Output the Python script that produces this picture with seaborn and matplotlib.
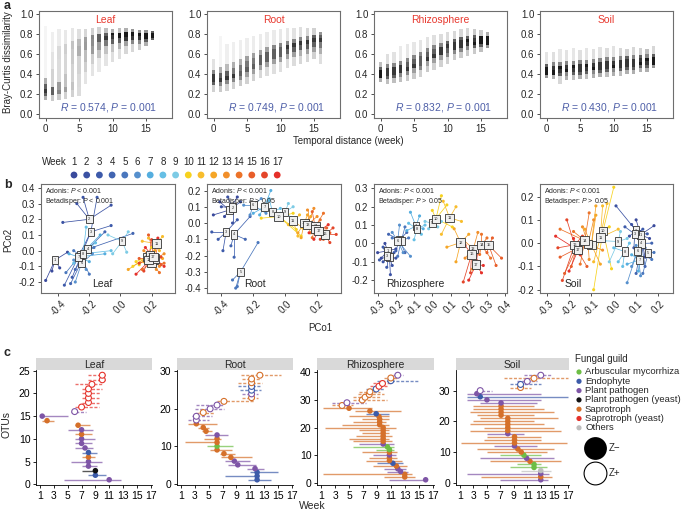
import numpy as np
import pandas as pd
import seaborn as sns
import matplotlib.pyplot as plt

sns.set_theme(style="white")
plt.rcParams["font.family"] = ["Liberation Sans", "DejaVu Sans"]
plt.rcParams["mathtext.fontset"] = "custom"
plt.rcParams["mathtext.it"] = "Liberation Sans:italic"
plt.rcParams["mathtext.rm"] = "Liberation Sans"

# ---------------- panel a: Bray-Curtis vs temporal distance ----------------
compartments = ["Leaf", "Root", "Rhizosphere", "Soil"]
lag_weeks = list(range(17))
q_levels = [0, 10, 25, 50, 75, 90, 100]   # percentiles of each column of points
leaf_bc = [
    [0.14, 0.18, 0.21, 0.25, 0.30, 0.36, 0.88], [0.13, 0.19, 0.22, 0.27, 0.45, 0.62, 0.82],
    [0.14, 0.20, 0.24, 0.32, 0.55, 0.68, 0.85], [0.15, 0.22, 0.27, 0.40, 0.60, 0.70, 0.84],
    [0.17, 0.24, 0.32, 0.50, 0.65, 0.73, 0.86], [0.18, 0.27, 0.40, 0.58, 0.68, 0.75, 0.85],
    [0.30, 0.42, 0.52, 0.64, 0.72, 0.77, 0.85], [0.38, 0.50, 0.60, 0.68, 0.75, 0.79, 0.86],
    [0.42, 0.56, 0.64, 0.72, 0.77, 0.80, 0.87], [0.48, 0.60, 0.68, 0.74, 0.78, 0.81, 0.86],
    [0.52, 0.62, 0.70, 0.75, 0.79, 0.81, 0.85], [0.55, 0.65, 0.71, 0.76, 0.79, 0.81, 0.86],
    [0.60, 0.68, 0.73, 0.77, 0.80, 0.82, 0.86], [0.62, 0.70, 0.74, 0.78, 0.80, 0.82, 0.85],
    [0.64, 0.70, 0.74, 0.78, 0.80, 0.81, 0.84], [0.68, 0.72, 0.75, 0.78, 0.80, 0.81, 0.84],
    [0.74, 0.76, 0.78, 0.79, 0.80, 0.81, 0.83]]
root_bc = [
    [0.22, 0.29, 0.32, 0.36, 0.40, 0.44, 0.55], [0.22, 0.28, 0.32, 0.36, 0.41, 0.47, 0.78],
    [0.23, 0.30, 0.34, 0.38, 0.43, 0.50, 0.70], [0.25, 0.32, 0.36, 0.40, 0.46, 0.52, 0.72],
    [0.28, 0.34, 0.38, 0.43, 0.49, 0.55, 0.74], [0.30, 0.37, 0.42, 0.47, 0.53, 0.58, 0.76],
    [0.33, 0.40, 0.45, 0.50, 0.56, 0.61, 0.78], [0.36, 0.44, 0.49, 0.54, 0.59, 0.64, 0.80],
    [0.38, 0.47, 0.52, 0.57, 0.62, 0.67, 0.82], [0.40, 0.50, 0.55, 0.60, 0.65, 0.69, 0.84],
    [0.42, 0.52, 0.57, 0.62, 0.67, 0.71, 0.85], [0.46, 0.55, 0.60, 0.65, 0.69, 0.73, 0.86],
    [0.48, 0.57, 0.62, 0.67, 0.71, 0.75, 0.86], [0.50, 0.58, 0.64, 0.69, 0.73, 0.77, 0.87],
    [0.52, 0.60, 0.65, 0.70, 0.74, 0.78, 0.86], [0.55, 0.62, 0.67, 0.72, 0.76, 0.79, 0.86],
    [0.50, 0.60, 0.66, 0.72, 0.76, 0.79, 0.82]]
rhizo_bc = [
    [0.32, 0.36, 0.38, 0.41, 0.44, 0.47, 0.52], [0.30, 0.35, 0.38, 0.42, 0.46, 0.50, 0.60],
    [0.31, 0.36, 0.39, 0.43, 0.47, 0.51, 0.62], [0.32, 0.37, 0.41, 0.45, 0.49, 0.53, 0.68],
    [0.33, 0.39, 0.43, 0.47, 0.52, 0.56, 0.70], [0.35, 0.41, 0.46, 0.50, 0.55, 0.59, 0.72],
    [0.37, 0.44, 0.48, 0.53, 0.58, 0.62, 0.74], [0.42, 0.48, 0.53, 0.57, 0.62, 0.66, 0.77],
    [0.44, 0.51, 0.56, 0.60, 0.65, 0.69, 0.79], [0.47, 0.54, 0.59, 0.63, 0.67, 0.71, 0.80],
    [0.50, 0.57, 0.61, 0.66, 0.70, 0.73, 0.82], [0.54, 0.60, 0.64, 0.68, 0.72, 0.75, 0.83],
    [0.56, 0.62, 0.66, 0.70, 0.74, 0.77, 0.85], [0.58, 0.64, 0.68, 0.72, 0.75, 0.78, 0.86],
    [0.60, 0.66, 0.69, 0.72, 0.76, 0.79, 0.85], [0.62, 0.67, 0.70, 0.73, 0.76, 0.78, 0.84],
    [0.66, 0.69, 0.71, 0.74, 0.76, 0.78, 0.82]]
soil_bc = [
    [0.36, 0.39, 0.41, 0.44, 0.47, 0.50, 0.62], [0.35, 0.39, 0.41, 0.44, 0.48, 0.52, 0.62],
    [0.30, 0.38, 0.41, 0.45, 0.48, 0.52, 0.65], [0.34, 0.38, 0.42, 0.45, 0.49, 0.53, 0.64],
    [0.34, 0.39, 0.42, 0.46, 0.49, 0.53, 0.66], [0.35, 0.39, 0.42, 0.46, 0.50, 0.54, 0.64],
    [0.35, 0.40, 0.43, 0.47, 0.50, 0.54, 0.66], [0.36, 0.40, 0.44, 0.47, 0.51, 0.55, 0.65],
    [0.37, 0.41, 0.44, 0.48, 0.52, 0.56, 0.67], [0.37, 0.42, 0.45, 0.49, 0.53, 0.57, 0.66],
    [0.38, 0.42, 0.46, 0.49, 0.53, 0.57, 0.68], [0.38, 0.43, 0.46, 0.50, 0.54, 0.58, 0.66],
    [0.40, 0.44, 0.47, 0.51, 0.55, 0.58, 0.65], [0.40, 0.44, 0.47, 0.51, 0.55, 0.59, 0.67],
    [0.42, 0.46, 0.49, 0.52, 0.56, 0.59, 0.66], [0.42, 0.46, 0.49, 0.53, 0.56, 0.60, 0.65],
    [0.46, 0.49, 0.51, 0.54, 0.57, 0.60, 0.68]]
mantel_r = ["0.574", "0.749", "0.832", "0.430"]
mantel_p = ["0.001", "0.001", "0.001", "0.001"]

# ---------------- panel b: PCoA centroids and samples ----------------
week_labels = [str(w) for w in range(1, 18)]
week_colors = ["#3A4A9C", "#3B52A3", "#3D5AAA", "#4265B1", "#4A77BD", "#5690CD", "#55AEDF",
               "#66BFE5", "#7DCBE5", "#F7D21E", "#F8BD2C", "#F5A627", "#F18F2A", "#EC7329",
               "#E85E2A", "#E4462A", "#E5302A"]
leaf_cent = [(-0.42, -0.06), (-0.20, 0.20), (-0.19, 0.12), (-0.21, 0.01), (-0.26, -0.03),
             (-0.25, -0.08), (-0.27, -0.04), (-0.24, -0.02), (0.01, 0.06), (0.17, -0.04),
             (0.23, 0.045), (0.19, -0.03), (0.21, -0.06), (0.20, -0.08), (0.22, -0.05),
             (0.18, -0.06), (0.21, -0.04)]
leaf_pts = [
    [(-0.48, -0.19), (-0.44, -0.13), (-0.39, -0.11), (-0.34, -0.01)],
    [(-0.28, 0.30), (-0.24, 0.34), (-0.06, 0.29), (-0.37, 0.18)],
    [(-0.36, -0.22), (-0.31, -0.17), (-0.15, 0.34), (-0.06, 0.16)],
    [(-0.32, -0.21), (-0.10, 0.12), (0.08, 0.11), (-0.29, -0.12)],
    [(-0.35, -0.14), (-0.30, 0.00), (-0.20, -0.15), (-0.17, 0.02)],
    [(-0.30, -0.06), (-0.22, -0.12), (-0.18, -0.02), (-0.29, -0.20)],
    [(-0.33, -0.02), (-0.13, 0.10), (-0.10, -0.02), (-0.20, -0.07)],
    [(-0.22, 0.15), (-0.06, 0.00), (-0.16, 0.05), (-0.30, -0.08)],
    [(-0.08, 0.10), (0.05, 0.12), (-0.05, -0.02), (0.04, -0.01)],
    [(0.10, -0.07), (0.08, -0.10), (0.12, -0.09), (0.20, 0.02)],
    [(0.14, 0.06), (0.27, 0.09), (0.18, 0.08), (0.25, 0.00)],
    [(0.05, -0.12), (0.15, -0.07), (0.22, 0.00), (0.27, -0.05)],
    [(0.25, -0.10), (0.28, -0.02), (0.15, 0.00), (0.23, -0.12)],
    [(0.14, -0.12), (0.25, -0.14), (0.28, -0.08), (0.17, -0.04)],
    [(0.18, 0.10), (0.26, -0.09), (0.12, -0.05), (0.24, 0.03)],
    [(0.12, -0.08), (0.20, 0.07), (0.15, -0.13), (0.26, -0.04)],
    [(0.10, -0.15), (0.24, 0.08), (0.28, -0.10), (0.16, 0.02)]]
root_cent = [(-0.35, 0.08), (-0.33, 0.095), (-0.37, -0.055), (-0.32, -0.07), (-0.28, -0.30),
             (-0.20, 0.11), (-0.13, 0.10), (-0.08, 0.07), (0.00, 0.07), (-0.04, 0.04),
             (0.05, 0.015), (0.12, 0.00), (0.14, -0.01), (0.19, -0.02), (0.19, -0.035),
             (0.25, -0.07), (0.21, -0.05)]
root_pts = [
    [(-0.41, 0.13), (-0.45, 0.05), (-0.30, 0.16), (-0.38, 0.04)],
    [(-0.36, 0.16), (-0.28, 0.13), (-0.33, 0.00), (-0.40, 0.10)],
    [(-0.46, -0.055), (-0.39, -0.17), (-0.42, -0.10), (-0.30, 0.02)],
    [(-0.34, -0.14), (-0.32, -0.21), (-0.25, -0.10), (-0.22, 0.04)],
    [(-0.31, -0.40), (-0.30, -0.39), (-0.17, -0.12), (-0.33, -0.35)],
    [(-0.26, 0.11), (-0.15, 0.15), (-0.22, 0.05), (-0.12, 0.06)],
    [(-0.16, 0.05), (-0.09, 0.20), (-0.10, 0.14), (-0.20, 0.06)],
    [(-0.10, 0.15), (-0.03, 0.09), (-0.06, 0.02), (-0.12, 0.08)],
    [(0.05, 0.10), (-0.03, 0.06), (0.04, 0.03), (0.02, 0.12)],
    [(-0.15, 0.03), (0.07, -0.04), (0.05, 0.06), (0.10, -0.08)],
    [(0.08, -0.08), (0.11, -0.03), (0.02, -0.01), (0.09, 0.05)],
    [(0.10, -0.09), (0.16, 0.04), (0.08, -0.06), (0.14, 0.05)],
    [(0.14, 0.08), (0.20, 0.04), (0.16, -0.06), (0.18, 0.09)],
    [(0.22, 0.02), (0.25, -0.05), (0.17, -0.09), (0.24, 0.06)],
    [(0.24, -0.10), (0.26, -0.03), (0.17, 0.07), (0.28, -0.06)],
    [(0.32, -0.07), (0.28, -0.12), (0.22, -0.10), (0.30, -0.03)],
    [(0.26, -0.09), (0.27, -0.01), (0.15, -0.06), (0.18, -0.10)]]
rhizo_cent = [(-0.245, -0.04), (-0.235, -0.075), (-0.25, -0.07), (-0.18, 0.02), (-0.17, 0.015),
              (-0.19, 0.015), (-0.09, 0.095), (-0.085, 0.08), (0.00, 0.11), (0.02, 0.135),
              (0.095, 0.14), (0.155, 0.005), (0.225, -0.03), (0.27, -0.01), (0.31, -0.01),
              (0.215, -0.06), (0.24, -0.115)]
rhizo_pts = [
    [(-0.28, -0.08), (-0.26, 0.00), (-0.20, -0.03), (-0.30, -0.05)],
    [(-0.23, -0.17), (-0.27, -0.10), (-0.20, -0.08), (-0.22, -0.12)],
    [(-0.29, -0.09), (-0.25, -0.13), (-0.21, -0.05), (-0.27, -0.02)],
    [(-0.24, 0.05), (-0.15, -0.05), (-0.20, -0.04), (-0.14, 0.06)],
    [(-0.22, 0.03), (-0.13, 0.03), (-0.19, -0.07), (-0.15, 0.09)],
    [(-0.22, 0.06), (-0.16, -0.05), (-0.12, -0.07), (-0.18, 0.10)],
    [(-0.12, 0.17), (-0.05, 0.08), (-0.14, 0.07), (-0.07, 0.15)],
    [(-0.10, 0.02), (-0.04, 0.10), (-0.13, 0.11), (-0.06, 0.05)],
    [(-0.04, 0.12), (0.03, 0.09), (-0.02, 0.08), (0.05, 0.12)],
    [(0.05, 0.26), (0.00, 0.18), (0.08, 0.21), (0.11, 0.09)],
    [(0.06, 0.23), (0.13, 0.20), (0.16, 0.12), (0.05, 0.05)],
    [(0.08, -0.02), (0.13, -0.10), (0.20, 0.05), (0.12, 0.08)],
    [(0.17, 0.02), (0.22, -0.14), (0.25, 0.06), (0.18, -0.08)],
    [(0.27, 0.05), (0.32, -0.08), (0.26, -0.06), (0.30, 0.03)],
    [(0.38, -0.08), (0.33, 0.03), (0.30, -0.05), (0.35, -0.12)],
    [(0.17, -0.21), (0.21, -0.16), (0.26, -0.10), (0.18, -0.01)],
    [(0.28, -0.12), (0.27, -0.16), (0.20, -0.20), (0.25, -0.04)]]
soil_cent = [(0.12, 0.036), (0.10, 0.054), (0.094, 0.039), (0.124, -0.001), (0.154, -0.043),
             (0.106, -0.033), (0.116, -0.071), (0.049, -0.036), (0.02, 0.007), (-0.048, 0.053),
             (-0.06, 0.024), (-0.10, -0.007), (-0.115, -0.004), (-0.13, 0.011), (-0.167, -0.024),
             (-0.175, -0.007), (-0.16, -0.03)]
soil_pts = [
    [(0.18, 0.075), (0.14, -0.06), (0.10, 0.10), (0.16, 0.02)],
    [(0.01, 0.16), (0.08, 0.08), (0.12, 0.05), (0.07, 0.03)],
    [(0.05, 0.07), (0.13, 0.06), (0.09, -0.02), (0.15, 0.04)],
    [(0.14, -0.10), (0.17, 0.00), (0.10, -0.13), (0.16, -0.06)],
    [(0.13, -0.13), (0.17, -0.07), (0.14, -0.02), (0.18, -0.04)],
    [(0.06, -0.17), (0.08, -0.10), (0.12, -0.14), (0.10, -0.01)],
    [(0.06, -0.09), (0.11, -0.12), (0.12, -0.05), (0.08, -0.05)],
    [(0.02, -0.08), (0.04, -0.10), (0.07, 0.00), (0.00, -0.02)],
    [(-0.02, -0.08), (0.03, 0.05), (0.06, 0.02), (-0.04, 0.01)],
    [(0.00, 0.24), (-0.02, 0.07), (-0.01, -0.11), (-0.09, -0.20)],
    [(-0.03, 0.17), (-0.05, 0.16), (0.02, 0.06), (-0.09, -0.08)],
    [(-0.08, 0.16), (-0.06, -0.09), (-0.13, 0.06), (-0.08, 0.12)],
    [(-0.14, 0.07), (-0.11, -0.07), (-0.05, -0.03), (-0.09, 0.10)],
    [(-0.24, 0.06), (-0.18, 0.05), (-0.15, -0.09), (-0.11, 0.13)],
    [(-0.22, -0.13), (-0.19, -0.10), (-0.24, -0.06), (-0.12, -0.10)],
    [(-0.25, -0.02), (-0.21, 0.10), (-0.23, -0.16), (-0.14, 0.03)],
    [(-0.20, -0.12), (-0.26, 0.03), (-0.15, -0.05), (-0.18, 0.02)]]
betadisper = ["P < 0.001", "P > 0.05", "P > 0.05", "P > 0.05"]

# ---------------- panel c: OTU persistence ranges ----------------
guild_codes = ["AM", "En", "PP", "PY", "Sa", "SY", "Ot"]
guild_names = ["Arbuscular mycorrhiza", "Endophyte", "Plant pathogen", "Plant pathogen (yeast)",
               "Saprotroph", "Saprotroph (yeast)", "Others"]
guild_colors = ["#6DBE45", "#3C5BA9", "#7E55A6", "#111111", "#D5702A", "#E5322B", "#BEBEBE"]

leaf_guild = ["PP", "En", "PY", "PP", "PP", "Sa", "En", "PP", "PP", "PP", "Sa", "PP", "Sa", "Sa",
              "PP", "PP", "SY", "SY", "SY", "SY", "SY", "SY", "SY", "SY"]
leaf_peak = [11.0, 9.0, 9.0, 8.0, 8.0, 8.0, 8.0, 7.5, 7.0, 7.0, 7.0, 7.0, 6.5, 2.0, 1.3, 6.0,
             7.0, 8.0, 8.0, 8.0, 8.0, 8.5, 10.0, 10.0]
leaf_lo = [4.5, 8.0, 7.0, 7.0, 5.5, 7.0, 7.0, 6.0, 6.0, 6.0, 6.0, 5.0, 6.0, 1.2, 1.0, 5.5,
           6.0, 7.0, 7.0, 7.0, 7.0, 6.0, 8.0, 8.0]
leaf_hi = [12.7, 10.5, 9.2, 9.2, 10.0, 9.0, 9.2, 8.7, 8.5, 9.0, 8.5, 8.7, 8.2, 3.0, 5.0, 7.7,
           9.5, 9.5, 9.5, 9.7, 10.0, 10.0, 10.5, 10.5]
leaf_z = "-" * 15 + "+" * 9

root_guild = ["En", "En", "En", "PP", "PP", "PP", "Sa", "Sa", "Sa", "AM", "Sa", "Sa", "PP", "Sa",
              "Sa", "Sa", "PP", "PP", "Sa", "PP", "PP", "Sa", "Sa", "PP", "En", "En", "Sa", "Sa", "Sa"]
root_peak = [12.0, 12.0, 12.0, 11.7, 9.2, 8.7, 8.2, 7.2, 6.2, 6.2, 6.2, 6.2, 6.2, 4.6, 4.2, 3.2,
             3.2, 3.2, 4.2, 5.2, 6.2, 7.2, 11.2, 11.2, 11.2, 11.2, 11.2, 11.2, 12.4]
root_lo = [10.7, 7.3, 11.0, 10.5, 7.8, 7.4, 6.7, 6.6, 5.2, 4.8, 1.5, 4.3, 4.5, 4.0, 3.5, 2.0,
           2.0, 2.5, 3.2, 3.0, 3.2, 6.2, 9.8, 9.8, 9.5, 9.3, 9.3, 9.8, 9.7]
root_hi = [14.0, 12.2, 15.0, 13.0, 11.8, 11.0, 11.2, 8.8, 8.4, 8.5, 6.2, 6.7, 7.8, 5.5, 5.0, 6.2,
           5.0, 5.5, 5.7, 7.2, 7.2, 11.5, 12.2, 12.2, 12.5, 12.5, 12.7, 12.5, 15.5]
root_z = "-" * 16 + "+" * 13

rhizo_guild = ["PP", "Sa", "Sa", "PP", "PP", "Sa", "En", "Sa", "Sa", "PP", "Sa", "AM", "AM", "PP",
               "Sa", "Sa", "Sa", "Sa", "Sa", "Sa", "Sa", "Sa", "Sa", "Sa", "En", "Sa", "Sa", "Sa",
               "PP", "Sa", "Sa", "Sa", "Sa", "En", "SY", "SY", "En", "Sa", "PP"]
rhizo_peak = [16.0, 13.0, 13.0, 12.4, 12.0, 11.8, 11.3, 10.8, 10.8, 10.8, 10.8, 10.8, 10.5, 9.9,
              9.9, 9.9, 9.9, 9.9, 9.9, 9.9, 9.4, 9.4, 9.4, 9.3, 8.9, 8.0, 5.0, 4.0, 4.7, 6.9,
              7.3, 7.9, 8.0, 8.9, 9.3, 9.8, 11.0, 11.0, 12.0]
rhizo_lo = [10.8, 10.0, 1.3, 10.5, 10.0, 8.5, 9.0, 7.4, 7.9, 8.4, 6.9, 8.8, 5.5, 6.4, 5.5, 5.0,
            6.0, 6.9, 6.4, 1.5, 4.0, 5.5, 6.9, 5.0, 7.4, 5.9, 1.3, 2.6, 2.5, 5.5, 5.5, 6.3,
            6.5, 7.5, 8.0, 8.5, 9.0, 10.0, 11.3]
rhizo_hi = [16.0, 14.4, 14.0, 13.5, 13.2, 13.3, 12.8, 12.6, 11.9, 11.7, 11.9, 11.5, 11.4, 11.4,
            11.2, 10.8, 11.2, 10.8, 10.8, 11.7, 10.8, 10.3, 10.8, 10.8, 10.8, 12.4, 8.3, 5.5,
            7.4, 10.5, 9.5, 10.0, 9.5, 10.0, 10.5, 11.0, 15.0, 12.0, 12.8]
rhizo_z = "-" * 27 + "+" * 12

soil_guild = ["PP", "Sa", "PP", "Ot", "AM", "AM", "Sa", "PP", "AM", "Sa", "Sa", "PP", "Sa", "Sa",
              "Sa", "PP", "Sa", "Sa", "Sa", "Sa", "Sa", "Sa", "Sa", "Sa", "Sa", "PP", "PP", "En",
              "PP", "PP", "Sa", "En", "PP", "Sa", "PP"]
soil_peak = [13.0, 13.0, 13.0, 13.0, 12.0, 12.0, 11.4, 10.9, 10.5, 10.1, 9.6, 9.1, 9.1, 9.1, 9.1,
             8.1, 8.1, 8.1, 8.1, 8.1, 8.1, 7.1, 7.1, 7.1, 7.1, 7.1, 5.0, 4.0, 3.5, 4.0, 10.0,
             10.0, 11.0, 12.0, 13.0]
soil_lo = [7.0, 4.1, 2.0, 10.1, 8.5, 9.5, 5.5, 4.0, 7.0, 5.0, 3.5, 6.0, 1.2, 4.5, 5.0, 5.0, 2.5,
           4.5, 2.5, 3.0, 4.0, 3.5, 2.5, 3.0, 3.0, 4.0, 2.0, 2.0, 2.0, 3.5, 8.5, 8.5, 9.5, 7.5, 10.5]
soil_hi = [14.1, 14.6, 14.3, 14.5, 14.0, 13.0, 16.0, 15.0, 13.0, 14.0, 15.0, 12.5, 16.9, 13.0,
           13.0, 10.5, 16.0, 15.0, 13.5, 12.0, 15.5, 12.0, 15.0, 13.5, 12.0, 12.5, 13.0, 17.0,
           13.0, 5.8, 11.5, 13.0, 12.5, 17.0, 14.5]
soil_z = "-" * 29 + "+" * 6

# ---------------- layout (pixel boxes) ----------------
W, H = 686, 512
fig = plt.figure(figsize=(W / 100, H / 100), dpi=100, facecolor="white")


def box(l, t, r, b):
    return [l / W, 1 - b / H, (r - l) / W, (b - t) / H]


def frame(ax):
    for s in ax.spines.values():
        s.set_visible(True)
        s.set_color("#6E6E6E")
        s.set_linewidth(0.8)
    ax.tick_params(direction="out", length=2.5, width=0.6, color="#333333", labelsize=7,
                   pad=1.5, left=True, bottom=True)
    ax.set_facecolor("white")


RED = "#E8392F"
BLUE_TXT = "#4E5FA8"
GRID_X = [(39, 172), (207, 340), (374, 507), (540, 673)]

# panel a
frac = np.diff(q_levels) / 100
for (l, r), name, qs, rv, pv in zip(GRID_X, compartments,
                                    [leaf_bc, root_bc, rhizo_bc, soil_bc], mantel_r, mantel_p):
    ax = fig.add_axes(box(l, 11, r, 118))
    for w, q in zip(lag_weeks, qs):
        q = np.array(q)
        hgt = np.diff(q)
        dens = frac / np.maximum(hgt, 1e-3)
        for lo, hh, d in zip(q[:-1], hgt, dens):
            ax.bar(w, hh, bottom=lo, width=0.5, color="black", linewidth=0,
                   alpha=float(np.clip(d / 8.0, 0.04, 0.9)))
    ax.set_xlim(-1, 18.9)
    ax.set_ylim(-0.045, 1.03)
    ax.set_xticks([0, 5, 10, 15])
    ax.set_yticks([0, 0.2, 0.4, 0.6, 0.8, 1.0])
    ax.set_yticklabels([f"{v:.1f}" for v in [0, 0.2, 0.4, 0.6, 0.8, 1.0]])
    frame(ax)
    ax.text(0.5, 0.92, name, color=RED, fontsize=7.5, ha="center", va="center",
            transform=ax.transAxes)
    ax.text(0.89, 0.1, rf"$R$ = {rv}, $P$ = {pv}", color=BLUE_TXT, fontsize=7.5,
            ha="right", va="center", transform=ax.transAxes)

fig.text(8 / W, 1 - 62 / H, "Bray-Curtis dissimilarity", rotation=90, fontsize=7,
         ha="center", va="center")
fig.text(348 / W, 1 - 141 / H, "Temporal distance (week)", fontsize=7, ha="center", va="center")

# panel b
b_limits = [((-0.51, 0.35), (-0.27, 0.425)), ((-0.49, 0.35), (-0.43, 0.24)),
            ((-0.32, 0.41), (-0.27, 0.324)), ((-0.33, 0.265), (-0.214, 0.254))]
b_xticks = [[-0.4, -0.2, 0.0, 0.2], [-0.4, -0.2, 0.0, 0.2],
            [-0.3, -0.2, -0.1, 0.0, 0.1, 0.2, 0.3, 0.4], [-0.3, -0.2, -0.1, 0.0, 0.1, 0.2]]
b_yticks = [[-0.2, -0.1, 0.0, 0.1, 0.2, 0.3, 0.4], [-0.4, -0.3, -0.2, -0.1, 0.0, 0.1, 0.2],
            [-0.2, -0.1, 0.0, 0.1, 0.2, 0.3], [-0.2, -0.1, 0.0, 0.1, 0.2]]
b_name_x = [0.46, 0.36, 0.31, 0.25]
palette = dict(zip(week_labels, week_colors))
b_left = [(41, 175), (207, 341), (374, 507), (540, 673)]
for i, ((l, r), name, cents, pts) in enumerate(zip(
        b_left, compartments, [leaf_cent, root_cent, rhizo_cent, soil_cent],
        [leaf_pts, root_pts, rhizo_pts, soil_pts])):
    ax = fig.add_axes(box(l, 184, r, 293))
    rows = []
    for wk, (cx, cy), plist in zip(week_labels, cents, pts):
        for px, py in plist:
            ax.plot([cx, px], [cy, py], color=palette[wk], lw=0.55, zorder=1)
            rows.append((wk, px, py))
    dfp = pd.DataFrame(rows, columns=["week", "x", "y"])
    sns.scatterplot(data=dfp, x="x", y="y", hue="week", palette=palette, s=5,
                    linewidth=0, legend=False, ax=ax, zorder=2)
    for wk, (cx, cy) in zip(week_labels, cents):
        ax.text(cx, cy, wk, fontsize=2.8, ha="center", va="center", zorder=3,
                bbox=dict(boxstyle="square,pad=0.55", fc="#EFEFEF", ec="#333333", lw=0.6))
    (x0, x1), (y0, y1) = b_limits[i]
    ax.set_xlim(x0, x1)
    ax.set_ylim(y0, y1)
    ax.set_xticks(b_xticks[i])
    ax.set_xticklabels([f"{v:.1f}" for v in b_xticks[i]], rotation=45, ha="center")
    ax.set_yticks(b_yticks[i])
    ax.set_yticklabels([f"{v:.1f}" for v in b_yticks[i]])
    ax.set_xlabel("")
    ax.set_ylabel("")
    frame(ax)
    ax.text(0.03, 0.985, f"Adonis: $P$ < 0.001\nBetadisper: ${betadisper[i][0]}${betadisper[i][1:]}",
            fontsize=5, ha="left", va="top", transform=ax.transAxes, linespacing=1.2, zorder=4)
    ax.text(b_name_x[i], 0.08, name, fontsize=7.5, ha="center", va="center",
            transform=ax.transAxes)

fig.text(8 / W, 1 - 240 / H, "PCo2", rotation=90, fontsize=7, ha="center", va="center")
fig.text(320 / W, 1 - 328 / H, "PCo1", fontsize=7, ha="center", va="center")

# week colour key
axw = fig.add_axes(box(38, 152, 295, 182))
axw.set_xlim(38, 295)
axw.set_ylim(182, 152)
axw.axis("off")
axw.text(42, 162, "Week", fontsize=7, ha="left", va="center")
key_x = [74 + 12.7 * k for k in range(len(week_labels))]
for kx, wk in zip(key_x, week_labels):
    axw.text(kx, 162, wk, fontsize=7, ha="center", va="center")
axw.scatter(key_x, [175] * len(key_x), s=24, c=week_colors, linewidths=0)

# panel c
gcol = dict(zip(guild_codes, guild_colors))
c_box = [(36, 152), (177, 293), (317, 434), (456, 569)]
c_yticks = [[0, 5, 10, 15, 20, 25], [0, 10, 20, 30], [0, 10, 20, 30, 40], [0, 10, 20, 30]]
c_data = [(leaf_guild, leaf_peak, leaf_lo, leaf_hi, leaf_z),
          (root_guild, root_peak, root_lo, root_hi, root_z),
          (rhizo_guild, rhizo_peak, rhizo_lo, rhizo_hi, rhizo_z),
          (soil_guild, soil_peak, soil_lo, soil_hi, soil_z)]
for (l, r), name, yt, (g, pk, lo, hi, z) in zip(c_box, compartments, c_yticks, c_data):
    df = pd.DataFrame({"otu": np.arange(1, len(g) + 1), "guild": g, "peak": pk,
                       "lo": lo, "hi": hi, "z": list(z)})
    ax = fig.add_axes(box(l, 370, r, 485))
    for row in df.itertuples():
        ls = "-" if row.z == "-" else (0, (2.2, 1.2))
        ax.plot([row.lo, row.hi], [row.otu, row.otu], color=gcol[row.guild], lw=1.0,
                alpha=0.7, ls=ls, zorder=1, solid_capstyle="butt")
    neg = df[df.z == "-"]
    pos = df[df.z == "+"]
    sns.scatterplot(data=neg, x="peak", y="otu", hue="guild", palette=gcol, s=16,
                    linewidth=0, legend=False, ax=ax, zorder=3)
    ax.scatter(pos["peak"], pos["otu"], s=18, facecolors="white",
               edgecolors=[gcol[v] for v in pos["guild"]], linewidths=0.8, zorder=3)
    n = len(df)
    ax.set_ylim(1 - 0.05 * (n - 1), n + 0.05 * (n - 1))
    ax.set_xlim(0.4, 17.2)
    ax.set_xticks(range(1, 18, 2))
    ax.set_yticks(yt)
    ax.set_xlabel("")
    ax.set_ylabel("")
    for s in ["top", "right"]:
        ax.spines[s].set_visible(False)
    for s in ["left", "bottom"]:
        ax.spines[s].set_color("black")
        ax.spines[s].set_linewidth(0.6)
    ax.tick_params(direction="out", length=2.5, width=0.6, labelsize=7.5, pad=1.5,
                   left=True, bottom=True, colors="black")
    strip = fig.add_axes(box(l, 358, r, 370))
    strip.set_facecolor("#D9D9D9")
    strip.set_xticks([])
    strip.set_yticks([])
    for s in strip.spines.values():
        s.set_visible(False)
    strip.text(0.5, 0.45, name, fontsize=7.5, ha="center", va="center",
               transform=strip.transAxes)

fig.text(7 / W, 1 - 425 / H, "OTUs", rotation=90, fontsize=7.5, ha="center", va="center")
fig.text(312 / W, 1 - 506 / H, "Week", fontsize=7.5, ha="center", va="center")

# guild legend
axl = fig.add_axes(box(572, 350, 686, 495))
axl.set_xlim(572, 686)
axl.set_ylim(495, 350)
axl.axis("off")
axl.text(575, 359, "Fungal guild", fontsize=7, ha="left", va="center")
leg_y = [372 + 9.3 * k for k in range(len(guild_names))]
axl.scatter([579] * len(leg_y), leg_y, s=14, c=guild_colors, linewidths=0)
for yy, nm in zip(leg_y, guild_names):
    axl.text(585, yy, nm, fontsize=6.8, ha="left", va="center")
axl.scatter([595], [448], s=270, c="black", linewidths=0)
axl.scatter([595], [473], s=270, facecolors="white", edgecolors="black", linewidths=0.8)
axl.text(609, 448, "Z\u2212", fontsize=7, ha="left", va="center")
axl.text(609, 473, "Z+", fontsize=7, ha="left", va="center")

# panel letters
fig.text(4 / W, 1 - 6 / H, "a", fontsize=9, weight="bold", ha="left", va="center")
fig.text(4 / W, 1 - 185 / H, "b", fontsize=9, weight="bold", ha="left", va="center")
fig.text(4 / W, 1 - 353 / H, "c", fontsize=9, weight="bold", ha="left", va="center")

fig.savefig("out.png", dpi=100, facecolor="white")
